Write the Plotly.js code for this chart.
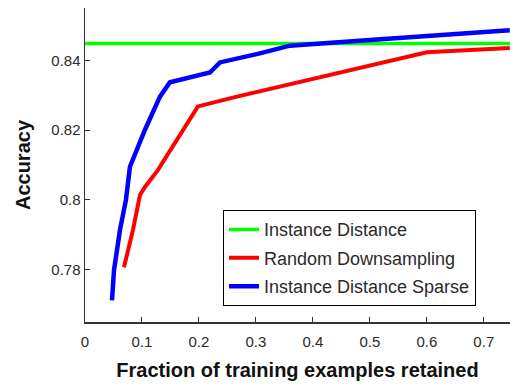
<!DOCTYPE html>
<html>
<head>
<meta charset="utf-8">
<script src="https://cdn.plot.ly/plotly-3.0.1.min.js"></script>
<style>html,body{margin:0;padding:0;background:#fff;}#chart{width:510px;height:385px;}</style>
</head>
<body>
<div id="chart"></div>
<script>
// ---- data ----
const seriesNames = ["Instance Distance", "Random Downsampling", "Instance Distance Sparse"];
const seriesColors = ["#00ff00", "#ff0000", "#0000ff"];

const distX = [0, 0.75];
const distY = [0.8448, 0.8448];

const randX = [0.0684, 0.0842, 0.0965, 0.1053, 0.1281, 0.1982, 0.2667, 0.6000, 0.7456];
const randY = [0.7807, 0.7914, 0.8014, 0.8037, 0.8086, 0.8268, 0.8296, 0.8423, 0.8435];

const sparseX = [0.0474, 0.0509, 0.0614, 0.0719, 0.0789, 0.1053, 0.1316, 0.1491, 0.2193, 0.2368, 0.3070, 0.3596, 0.5000, 0.7456];
const sparseY = [0.7712, 0.7798, 0.7914, 0.8000, 0.8095, 0.8201, 0.8296, 0.8337, 0.8365, 0.8394, 0.8420, 0.8442, 0.8458, 0.8486];

const xTicks = [0, 0.1, 0.2, 0.3, 0.4, 0.5, 0.6, 0.7];
const xTickText = ["0", "0.1", "0.2", "0.3", "0.4", "0.5", "0.6", "0.7"];
const yTicks = [0.78, 0.80, 0.82, 0.84];
const yTickText = ["0.78", "0.8", "0.82", "0.84"];

const xTitle = "Fraction of training examples retained";
const yTitle = "Accuracy";

// ---- traces ----
const xs = [distX, randX, sparseX];
const ys = [distY, randY, sparseY];
const widths = [3.5, 4, 4.5];
const traces = seriesNames.map((n, i) => ({
  x: xs[i], y: ys[i], name: n, type: "scatter", mode: "lines",
  legendgroup: "g" + i,
  line: {color: seriesColors[i], width: widths[i]}
}));

const axisColor = "#333333";
const fam = "Liberation Sans, Arial, sans-serif";
const layout = {
  width: 510, height: 385,
  margin: {l: 85, r: 0, t: 8, b: 63, pad: 0},
  paper_bgcolor: "#ffffff", plot_bgcolor: "#ffffff",
  font: {family: fam, color: "#2a2a2a", size: 15},
  showlegend: true,
  legend: {
    x: 0.3247, y: 0.356, xanchor: "left", yanchor: "top",
    bordercolor: "#000000", borderwidth: 1, bgcolor: "#ffffff",
    font: {size: 18, color: "#2a2a2a", family: fam},
    tracegroupgap: 2, traceorder: "grouped", entrywidth: 262
  },
  xaxis: {
    range: [0, 0.746], tickvals: xTicks, ticktext: xTickText,
    ticks: "inside", ticklen: 5, tickcolor: axisColor, tickwidth: 1,
    showline: true, linecolor: axisColor, linewidth: 1.5,
    showgrid: false, zeroline: false,
    tickfont: {size: 15}, ticklabelstandoff: 5,
    title: {text: xTitle, font: {size: 20, family: fam, color: "#111111", weight: "bold"}, standoff: 14}
  },
  yaxis: {
    range: [0.765, 0.855], tickvals: yTicks, ticktext: yTickText,
    ticks: "inside", ticklen: 5, tickcolor: axisColor, tickwidth: 1,
    showline: true, linecolor: axisColor, linewidth: 1.5,
    showgrid: false, zeroline: false,
    tickfont: {size: 15},
    title: {text: yTitle, font: {size: 20, family: fam, color: "#111111", weight: "bold"}, standoff: 15}
  }
};

Plotly.newPlot("chart", traces, layout, {displayModeBar: false, staticPlot: true});
</script>
</body>
</html>
